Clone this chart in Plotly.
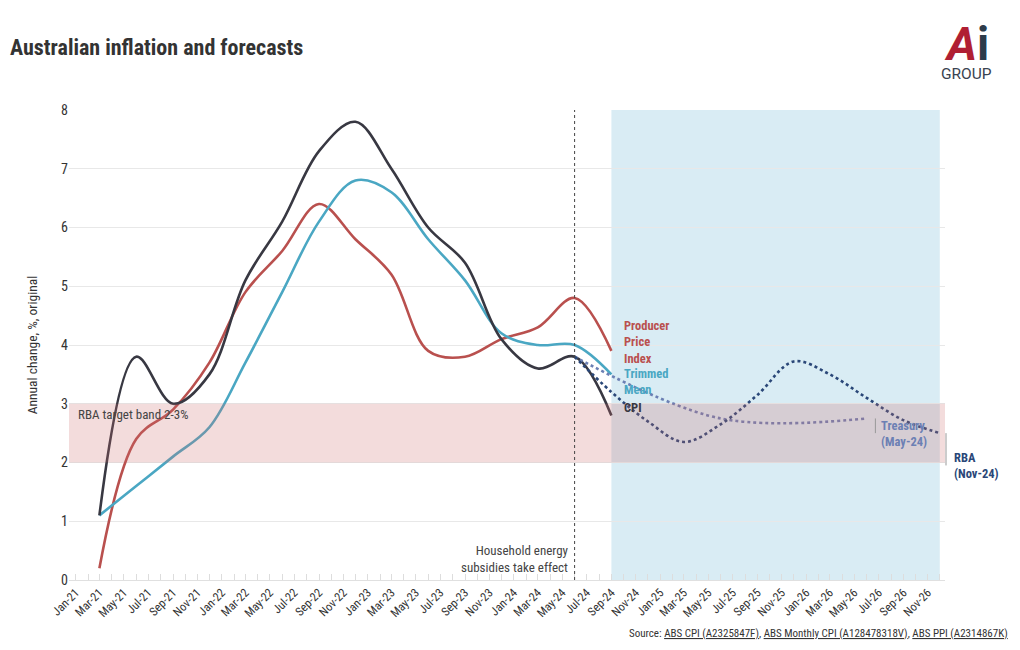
import plotly.graph_objects as go
import pandas as pd

# ---------------- data ----------------
quarters = ["2021-03-01", "2021-06-01", "2021-09-01", "2021-12-01",
            "2022-03-01", "2022-06-01", "2022-09-01", "2022-12-01",
            "2023-03-01", "2023-06-01", "2023-09-01", "2023-12-01",
            "2024-03-01", "2024-06-01", "2024-09-01"]
cpi = [1.1, 3.8, 3.0, 3.5, 5.1, 6.1, 7.3, 7.8, 7.0, 6.0, 5.4, 4.1, 3.6, 3.8, 2.8]
trimmed_mean = [1.1, 1.6, 2.1, 2.6, 3.7, 4.9, 6.1, 6.8, 6.6, 5.8, 5.1, 4.2, 4.0, 4.0, 3.5]
ppi = [0.2, 2.4, 2.9, 3.7, 4.9, 5.6, 6.4, 5.8, 5.2, 3.9, 3.8, 4.1, 4.3, 4.8, 3.9]

treasury_dates = ["2024-06-01", "2025-06-01", "2026-06-01"]
treasury = [3.8, 2.75, 2.75]

rba_dates = ["2024-06-01", "2024-09-01", "2024-12-01", "2025-03-01", "2025-06-01",
             "2025-09-01", "2025-12-01", "2026-03-01", "2026-06-01", "2026-09-01",
             "2026-12-01"]
rba = [3.8, 3.2, 2.7, 2.35, 2.65, 3.15, 3.72, 3.5, 3.1, 2.72, 2.5]

band_low, band_high = 2, 3
forecast_start, forecast_end = "2024-09-01", "2026-12-01"
subsidy_date = "2024-06-01"

# ---------------- style ----------------
FONT = "Roboto Condensed, Liberation Sans Narrow, Roboto, sans-serif"
C_CPI = "#383842"
C_TM = "#4aa7c3"
C_PPI = "#b9504e"
C_TSY = "#6c80b4"
C_RBA = "#2a4778"
TXT = "#333333"

O = 8  # page body margin
W, H = 1020 - O, 650 - O
L, T = 69 - O, 110 - O
R = W - (945 - O)
B = H - (580 - O)
PW, PH = W - L - R, H - T - B


def px(xp):
    return (xp - O - L) / PW


def py(yp):
    return (H + O - B - yp) / PH


fig = go.Figure()

fig.add_trace(go.Scatter(x=quarters, y=ppi, mode="lines", name="Producer Price Index",
                         line=dict(color=C_PPI, width=2.6, shape="spline")))
fig.add_trace(go.Scatter(x=quarters, y=trimmed_mean, mode="lines", name="Trimmed Mean",
                         line=dict(color=C_TM, width=2.6, shape="spline")))
fig.add_trace(go.Scatter(x=quarters, y=cpi, mode="lines", name="CPI",
                         line=dict(color=C_CPI, width=2.6, shape="spline")))
fig.add_trace(go.Scatter(x=treasury_dates, y=treasury, mode="lines", name="Treasury (May-24)",
                         line=dict(color=C_TSY, width=2.6, shape="spline", dash="dot")))
fig.add_trace(go.Scatter(x=rba_dates, y=rba, mode="lines", name="RBA (Nov-24)",
                         line=dict(color=C_RBA, width=2.6, shape="spline", dash="dot")))

# forecast shading (below)
fig.add_shape(type="rect", xref="x", yref="paper", x0=forecast_start, x1=forecast_end,
              y0=0, y1=1, fillcolor="rgba(120,188,214,0.28)", line_width=0, layer="below")
# RBA target band (above)
fig.add_shape(type="rect", xref="paper", yref="y", x0=0, x1=1, y0=band_low, y1=band_high,
              fillcolor="rgba(205,110,110,0.24)", line_width=0, layer="above")
# subsidies vertical line
fig.add_shape(type="line", xref="x", yref="paper", x0=subsidy_date, x1=subsidy_date,
              y0=0, y1=1, line=dict(color="#444444", width=1, dash="dot"), layer="above")

ann = []
ann.append(dict(xref="paper", yref="y", x=px(76), y=band_high, xanchor="left", yanchor="top",
                yshift=-1, text="RBA target band 2-3%", showarrow=False,
                font=dict(family=FONT, size=13, color="#444444")))
ann.append(dict(xref="x", yref="paper", x=subsidy_date, y=py(559), xanchor="right", yanchor="middle",
                xshift=-4, text="Household energy<br>subsidies take effect", showarrow=False,
                align="right", font=dict(family=FONT, size=13, color="#444444")))


# end labels
def label(x, yval, txt, yshift, color, xshift=11):
    ann.append(dict(xref="x", yref="y", x=x, y=yval, xanchor="left", yanchor="middle",
                    xshift=xshift, yshift=yshift, text="<b>" + txt + "</b>", showarrow=False,
                    align="left", font=dict(family=FONT, size=12.5, color=color)))


label(quarters[-1], ppi[-1], "Producer<br>Price<br>Index", 9, C_PPI)
label(quarters[-1], trimmed_mean[-1], "Trimmed<br>Mean", -7, C_TM)
label(quarters[-1], cpi[-1], "CPI", 8, C_CPI)
label(treasury_dates[-1], treasury[-1], "Treasury<br>(May-24)", -15, C_TSY, 12)
label(rba_dates[-1], rba[-1], "RBA<br>(Nov-24)", -32, C_RBA, 12)

# small brackets
tsy_x = pd.Timestamp(treasury_dates[-1]) + pd.Timedelta(days=22)
fig.add_shape(type="path", xref="x", yref="y",
              path=f"M {tsy_x:%Y-%m-%d},{treasury[-1]} L {tsy_x:%Y-%m-%d},{treasury[-1] - 0.25}",
              line=dict(color="#999999", width=1))
fig.add_shape(type="line", xref="paper", yref="y", x0=px(946), x1=px(946),
              y0=rba[-1], y1=rba[-1] - 0.55, line=dict(color="#999999", width=1))

# title, source, logo
ann.append(dict(xref="paper", yref="paper", x=px(1010), y=py(633), xanchor="right", yanchor="middle",
                text="Source: <u>ABS CPI (A2325847F)</u>, <u>ABS Monthly CPI (A128478318V)</u>, <u>ABS PPI (A2314867K)</u>",
                showarrow=False, font=dict(family=FONT, size=11, color=TXT)))
ann.append(dict(xref="paper", yref="paper", x=px(966), y=py(44), xanchor="center", yanchor="middle",
                text="<b><i><span style='color:#b01f33'>A</span></i><span style='color:#2e3b4a'>i</span></b>",
                showarrow=False,
                font=dict(family="Roboto, sans-serif", size=46, color="#b01f33")))
ann.append(dict(xref="paper", yref="paper", x=px(966), y=py(74), xanchor="center", yanchor="middle",
                text="GROUP", showarrow=False,
                font=dict(family="Roboto, sans-serif", size=15.5, color="#3a4350")))

fig.update_layout(
    width=W, height=H,
    margin=dict(l=L, r=R, t=T, b=B),
    paper_bgcolor="white", plot_bgcolor="white",
    showlegend=False,
    font=dict(family=FONT, color=TXT, size=13),
    title=dict(text="<b>Australian inflation and forecasts</b>", x=(10 - O) / W, xanchor="left",
               y=1 - (47 - O) / H, yanchor="middle", font=dict(family=FONT, size=22, color=TXT)),
    annotations=ann,
)

fig.update_xaxes(
    type="date", range=["2020-12-15", "2026-12-14"],
    tick0="2021-01-01", dtick="M2", tickformat="%b-%y", tickangle=-45,
    tickfont=dict(family=FONT, size=12, color=TXT),
    showgrid=False, showline=True, linecolor="#e0e0e0", linewidth=1,
    ticks="inside", ticklen=6, tickcolor="#dddddd",
    minor=dict(dtick="M1", ticks="inside", ticklen=6, tickcolor="#dddddd"),
    zeroline=False,
)
fig.update_yaxes(
    range=[0, 8], dtick=1, showgrid=True, gridcolor="#e8e8e8", gridwidth=1,
    zeroline=False, ticks="", tickfont=dict(family=FONT, size=14, color=TXT),
    title=dict(text="Annual change, %, original", standoff=20,
               font=dict(family=FONT, size=13.5, color=TXT)),
)

fig.write_html("out.html")
